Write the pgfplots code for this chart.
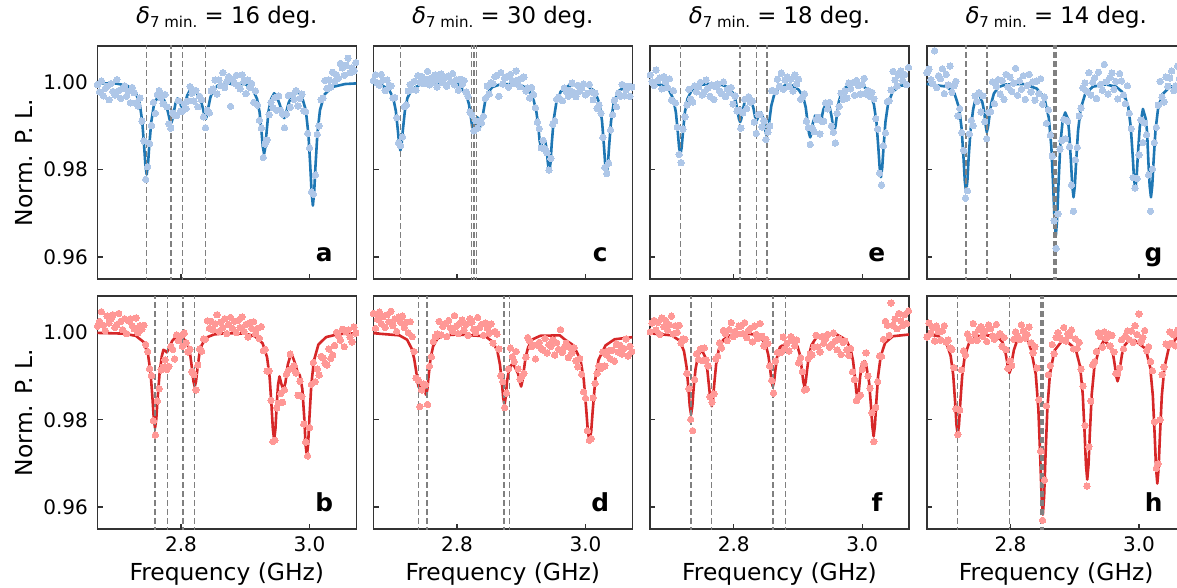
\documentclass[border=0pt]{standalone}
\usepackage{pgfplots}
\pgfplotsset{compat=1.18}
\usepackage{pgfplotstable}
\usepackage{fontspec}
\setmainfont{DejaVu Sans}
\definecolor{lblue}{RGB}{174,199,232}
\definecolor{dblue}{RGB}{31,119,180}
\definecolor{lred}{RGB}{255,152,150}
\definecolor{dred}{RGB}{214,39,40}
\definecolor{vgray}{RGB}{128,128,128}

\pgfplotstableread{
x a b c d e f g h
2.670 0.9995 1.0014 1.0004 1.0043 1.0017 1.0001 1.0022 0.9989
2.673 0.9978 1.0025 1.0017 1.0009 1.0001 1.0021 1.0030 1.0021
2.676 1.0003 1.0047 0.9998 1.0030 0.9993 1.0027 1.0006 0.9998
2.679 0.9969 1.0016 0.9993 1.0046 1.0028 1.0005 0.9997 1.0011
2.682 0.9986 1.0004 1.0018 1.0020 1.0004 1.0023 1.0072 0.9980
2.685 0.9991 1.0037 1.0005 1.0036 1.0010 0.9995 0.9988 1.0014
2.688 0.9960 1.0021 0.9981 1.0011 0.9985 1.0033 1.0015 1.0002
2.691 0.9997 1.0031 1.0005 1.0040 1.0013 1.0013 1.0008 0.9982
2.694 0.9979 1.0040 0.9989 1.0024 1.0001 1.0027 1.0031 1.0003
2.697 0.9971 1.0011 0.9992 1.0048 0.9988 1.0005 0.9974 1.0015
2.700 1.0006 1.0017 0.9964 1.0015 1.0008 1.0017 1.0018 0.9978
2.703 0.9981 1.0043 0.9965 1.0030 0.9959 1.0037 0.9994 0.9982
2.706 0.9963 1.0025 0.9919 1.0002 0.9981 0.9996 1.0037 0.9964
2.709 0.9986 1.0006 0.9862 1.0035 0.9953 1.0015 0.9977 0.9961
2.712 0.9992 1.0031 0.9855 1.0023 0.9897 1.0000 0.9992 0.9919
2.715 0.9968 0.9997 0.9875 1.0037 0.9835 1.0016 1.0002 0.9825
2.718 0.9979 1.0026 0.9944 1.0011 0.9816 0.9975 0.9923 0.9766
2.721 0.9953 1.0031 0.9948 1.0023 0.9893 0.9985 0.9940 0.9822
2.724 0.9988 1.0015 0.9980 0.9999 0.9921 0.9984 0.9885 0.9914
2.727 0.9976 1.0008 0.9995 1.0024 0.9948 0.9906 0.9844 0.9958
2.730 0.9953 1.0033 0.9983 0.9990 0.9984 0.9871 0.9735 0.9948
2.733 0.9946 0.9999 1.0002 0.9956 0.9962 0.9801 0.9752 0.9996
2.736 0.9964 1.0015 0.9982 0.9895 0.9955 0.9775 0.9882 0.9985
2.739 0.9911 1.0007 1.0015 0.9891 0.9992 0.9892 0.9913 0.9981
2.742 0.9866 1.0016 1.0000 0.9830 0.9978 0.9951 0.9901 1.0020
2.745 0.9778 0.9972 1.0013 0.9868 0.9990 0.9938 0.9969 0.9996
2.748 0.9807 0.9956 0.9997 0.9882 1.0000 0.9962 0.9956 0.9981
2.751 0.9860 0.9917 1.0007 0.9880 0.9971 0.9935 0.9976 1.0006
2.754 0.9901 0.9901 1.0025 0.9835 0.9978 0.9964 0.9932 1.0013
2.757 0.9954 0.9798 0.9994 0.9922 1.0005 0.9937 0.9969 0.9991
2.760 0.9929 0.9765 1.0010 0.9944 0.9987 0.9923 0.9910 1.0003
2.763 0.9972 0.9843 1.0001 0.9979 0.9968 0.9852 0.9871 0.9979
2.766 0.9981 0.9871 1.0017 0.9989 0.9994 0.9840 0.9931 1.0017
2.769 0.9964 0.9914 0.9989 0.9996 0.9961 0.9859 0.9933 1.0008
2.772 0.9951 0.9920 1.0006 1.0025 0.9990 0.9939 1.0001 0.9992
2.775 0.9972 0.9937 1.0019 0.9994 0.9996 0.9945 0.9951 0.9984
2.778 0.9944 0.9915 0.9999 1.0013 0.9980 0.9976 0.9991 1.0018
2.781 0.9905 0.9922 1.0011 1.0019 0.9974 0.9964 1.0006 0.9993
2.784 0.9895 0.9968 0.9991 0.9990 1.0001 1.0004 0.9973 0.9997
2.787 0.9930 0.9961 1.0014 1.0027 0.9967 0.9997 1.0004 0.9968
2.790 0.9924 0.9939 1.0002 1.0010 0.9984 0.9981 0.9961 0.9988
2.793 0.9924 0.9994 1.0020 1.0002 0.9977 1.0006 1.0018 0.9960
2.796 0.9958 0.9981 0.9994 1.0038 0.9988 1.0022 0.9989 0.9917
2.799 0.9934 0.9992 1.0006 1.0014 0.9950 0.9990 1.0012 0.9934
2.802 0.9934 0.9968 0.9982 0.9997 0.9969 1.0002 0.9979 0.9924
2.805 0.9951 0.9998 1.0007 1.0021 0.9934 0.9996 0.9998 0.9984
2.808 0.9940 0.9976 0.9995 1.0028 0.9936 1.0014 1.0032 1.0001
2.811 0.9957 0.9955 1.0004 1.0005 0.9895 1.0014 0.9970 0.9991
2.814 0.9990 0.9961 0.9978 1.0018 0.9930 0.9997 1.0003 0.9983
2.817 0.9975 0.9910 0.9968 0.9993 0.9961 1.0022 0.9984 1.0017
2.820 0.9957 0.9903 0.9932 1.0031 0.9940 0.9988 1.0015 1.0003
2.823 0.9981 0.9868 0.9925 1.0023 0.9967 1.0004 0.9961 0.9987
2.826 0.9944 0.9925 0.9889 1.0007 0.9954 1.0009 0.9993 0.9995
2.829 0.9968 0.9962 0.9912 0.9999 0.9957 0.9978 1.0018 1.0012
2.832 0.9960 0.9957 0.9895 1.0034 0.9909 1.0014 0.9978 0.9976
2.835 0.9921 0.9985 0.9912 1.0011 0.9883 0.9995 1.0001 0.9953
2.838 0.9896 0.9984 0.9907 1.0018 0.9926 0.9986 0.9959 0.9967
2.841 0.9936 1.0026 0.9922 0.9993 0.9926 1.0020 1.0003 0.9918
2.844 0.9930 1.0009 0.9963 1.0021 0.9898 0.9991 0.9974 0.9846
2.847 0.9980 1.0025 0.9991 1.0010 0.9912 0.9969 1.0008 0.9728
2.850 0.9985 1.0005 0.9973 0.9998 0.9869 0.9984 0.9950 0.9570
2.853 1.0005 1.0019 0.9999 1.0019 0.9886 0.9974 0.9966 0.9662
2.856 0.9973 1.0040 0.9997 0.9975 0.9900 0.9923 0.9906 0.9832
2.859 1.0005 1.0002 1.0013 1.0002 0.9981 0.9890 0.9937 0.9903
2.862 0.9992 1.0023 1.0016 0.9996 0.9980 0.9861 0.9879 0.9924
2.865 1.0022 1.0011 0.9968 0.9962 0.9978 0.9934 0.9831 0.9972
2.868 0.9988 1.0031 1.0022 0.9901 1.0007 0.9954 0.9683 0.9951
2.871 1.0001 0.9997 0.9996 0.9887 0.9991 0.9953 0.9620 0.9988
2.874 1.0013 1.0018 1.0009 0.9828 1.0021 0.9954 0.9699 0.9999
2.877 0.9945 1.0034 1.0013 0.9861 0.9984 0.9989 0.9847 0.9987
2.880 1.0007 1.0009 0.9989 0.9916 1.0005 0.9963 0.9867 0.9983
2.883 0.9998 1.0025 1.0018 0.9964 1.0012 0.9975 0.9915 1.0011
2.886 1.0016 0.9999 1.0004 0.9944 0.9990 0.9957 0.9871 0.9980
2.889 0.9991 1.0027 0.9997 0.9933 1.0007 0.9990 0.9911 0.9997
2.892 0.9985 1.0011 1.0026 0.9956 0.9980 0.9982 0.9853 0.9992
2.895 1.0017 1.0035 1.0005 0.9916 1.0017 0.9969 0.9765 1.0005
2.898 1.0002 1.0002 0.9990 0.9893 0.9996 0.9982 0.9705 0.9962
2.901 0.9974 1.0018 1.0009 0.9900 1.0007 0.9930 0.9823 0.9985
2.904 1.0005 0.9989 1.0012 0.9906 0.9961 0.9942 0.9851 0.9963
2.907 0.9988 1.0022 0.9980 0.9943 0.9967 0.9910 0.9923 0.9977
2.910 0.9997 1.0009 0.9987 0.9988 0.9974 0.9868 0.9941 0.9916
2.913 0.9954 1.0024 0.9964 0.9980 0.9911 0.9870 0.9987 0.9877
2.916 0.9980 0.9997 0.9988 0.9967 0.9896 0.9940 0.9998 0.9787
2.919 0.9948 1.0009 0.9972 0.9970 0.9858 0.9950 0.9979 0.9648
2.922 0.9913 0.9986 0.9942 0.9939 0.9896 0.9948 1.0022 0.9738
2.925 0.9895 1.0013 0.9909 0.9971 0.9887 0.9966 0.9971 0.9843
2.928 0.9828 0.9958 0.9894 0.9977 0.9915 0.9993 1.0000 0.9925
2.931 0.9859 0.9961 0.9850 0.9963 0.9920 0.9966 1.0010 0.9933
2.934 0.9868 0.9911 0.9867 0.9959 0.9882 0.9955 0.9963 0.9956
2.937 0.9926 0.9912 0.9848 0.9986 0.9911 0.9990 1.0023 0.9999
2.940 0.9954 0.9844 0.9839 0.9953 0.9911 0.9975 0.9995 0.9990
2.943 0.9942 0.9750 0.9799 0.9972 0.9953 0.9986 0.9982 0.9966
2.946 0.9965 0.9753 0.9826 0.9968 0.9939 0.9995 1.0041 1.0001
2.949 0.9936 0.9827 0.9904 0.9983 0.9954 0.9966 1.0001 0.9986
2.952 0.9969 0.9838 0.9911 0.9948 0.9900 0.9972 0.9973 0.9996
2.955 0.9936 0.9860 0.9961 0.9976 0.9886 0.9998 1.0011 0.9969
2.958 0.9927 0.9840 0.9966 0.9961 0.9861 0.9980 1.0021 0.9993
2.961 0.9896 0.9868 0.9961 1.0006 0.9929 0.9960 0.9984 0.9955
2.964 0.9927 0.9904 0.9958 0.9954 0.9945 0.9985 1.0002 0.9906
2.967 0.9970 0.9913 0.9987 0.9966 0.9975 0.9949 0.9962 0.9906
2.970 0.9943 0.9950 0.9979 0.9975 0.9961 0.9977 1.0020 0.9919
2.973 0.9971 0.9917 0.9968 0.9942 0.9980 0.9980 1.0003 0.9983
2.976 0.9961 0.9924 0.9981 0.9965 0.9964 0.9960 0.9971 0.9962
2.979 0.9981 0.9907 0.9998 0.9953 0.9998 0.9947 0.9951 0.9991
2.982 0.9946 0.9856 0.9976 0.9965 0.9985 0.9963 0.9992 1.0003
2.985 0.9963 0.9888 0.9967 0.9935 0.9999 0.9910 0.9929 0.9983
2.988 0.9973 0.9853 0.9993 0.9921 0.9970 0.9892 0.9894 1.0003
2.991 0.9935 0.9790 0.9980 0.9940 1.0004 0.9844 0.9782 0.9977
2.994 0.9933 0.9749 0.9987 0.9904 0.9992 0.9852 0.9758 1.0015
2.997 0.9883 0.9717 0.9996 0.9864 0.9973 0.9856 0.9780 0.9995
3.000 0.9850 0.9782 0.9971 0.9849 0.9995 0.9915 0.9834 1.0042
3.003 0.9749 0.9881 0.9975 0.9775 1.0009 0.9928 0.9914 0.9978
3.006 0.9744 0.9931 0.9995 0.9753 0.9973 0.9953 0.9862 0.9988
3.009 0.9788 0.9887 0.9978 0.9757 0.9981 0.9900 0.9907 1.0004
3.012 0.9881 0.9916 0.9960 0.9850 0.9968 0.9872 0.9880 0.9958
3.015 0.9900 0.9902 0.9975 0.9883 0.9977 0.9816 0.9788 0.9967
3.018 0.9960 0.9945 0.9940 0.9906 0.9962 0.9750 0.9705 0.9933
3.021 0.9964 0.9942 0.9948 0.9923 0.9917 0.9828 0.9802 0.9912
3.024 1.0004 0.9929 0.9929 0.9917 0.9893 0.9887 0.9862 0.9795
3.027 0.9986 0.9925 0.9874 0.9955 0.9792 0.9946 0.9897 0.9689
3.030 1.0005 0.9962 0.9805 0.9923 0.9765 0.9945 0.9948 0.9699
3.033 0.9989 0.9940 0.9791 0.9948 0.9855 0.9984 1.0002 0.9800
3.036 1.0023 0.9948 0.9815 0.9958 0.9884 1.0025 0.9966 0.9903
3.039 1.0002 0.9970 0.9891 0.9939 0.9956 1.0016 0.9955 0.9921
3.042 1.0017 1.0000 0.9926 0.9959 0.9958 0.9993 1.0012 0.9973
3.045 1.0009 0.9992 0.9959 0.9934 0.9982 1.0067 0.9991 0.9970
3.048 1.0043 0.9982 0.9944 0.9973 1.0025 1.0016 1.0010 1.0001
3.051 1.0033 1.0007 0.9975 0.9955 1.0005 1.0030 1.0026 0.9975
3.054 1.0016 0.9967 0.9968 0.9970 0.9991 1.0008 0.9981 0.9994
3.057 1.0039 1.0001 0.9995 0.9950 1.0017 1.0043 0.9992 0.9969
3.060 1.0055 1.0005 0.9969 0.9963 1.0026 1.0026 1.0037 1.0005
3.063 1.0022 0.9989 0.9982 0.9985 1.0004 1.0015 1.0009 0.9995
3.066 1.0033 0.9978 0.9991 0.9946 1.0018 1.0040 0.9978 1.0012
3.069 1.0026 1.0012 0.9968 0.9968 0.9995 1.0020 1.0021 0.9989
3.072 1.0045 0.9998 0.9989 0.9956 1.0034 1.0049 0.9967 1.0004
}\scatterdata

\newcommand{\vln}[1]{\addplot[vl] coordinates {(#1,0.95) (#1,1.01)};}
\newcommand{\ttl}[1]{{\itshape δ}\raisebox{-0.3ex}{\fontsize{7.5}{9}\selectfont 7 min.} = #1 deg.}

\pgfplotsset{
  panel/.style={
    scale only axis, width=129.5pt, height=116.5pt,
    xmin=2.6696, xmax=3.0728, ymin=0.955, ymax=1.0083,
    xtick={2.8,3.0}, ytick={0.96,0.98,1.00},
    xtick pos=left, ytick pos=left,
    tick align=inside, major tick length=2.6pt,
    tick style={black!80, line width=0.7pt},
    axis line style={black!80, line width=0.8pt},
    tick label style={font=\fontsize{10}{12}\selectfont},
    /pgf/number format/assume math mode=true,
    scaled ticks=false,
    xticklabel style={anchor=base, yshift=-11.2pt, inner sep=0pt,
      /pgf/number format/fixed, /pgf/number format/fixed zerofill, /pgf/number format/precision=1},
    yticklabel style={anchor=east, xshift=-4.5pt, inner sep=0pt,
      /pgf/number format/fixed, /pgf/number format/fixed zerofill, /pgf/number format/precision=2},
    clip=true,
    title style={at={(axis description cs:0.5,1.046)}, anchor=base, inner sep=0pt, font=\fontsize{11.4}{13}\selectfont},
    xlabel style={at={(axis description cs:0.5,-0.219)}, anchor=base, inner sep=0pt, font=\fontsize{11.7}{14}\selectfont},
    ylabel style={at={(axis description cs:-0.25,0.5)}, anchor=base, inner sep=0pt, font=\fontsize{11.7}{14}\selectfont},
  },
  notx/.style={xticklabels={}},
  noty/.style={yticklabels={}},
  scat/.style={only marks, color=#1, mark=*, mark size=1.6pt, mark options={solid, draw=#1, fill=#1, line width=0pt}},
  fitl/.style={no marks, line width=1.3pt, color=#1, line join=round},
  vl/.style={vgray, dash pattern=on 3pt off 1.5pt, line width=0.75pt, forget plot},
}
\newcommand{\plab}[1]{\node[anchor=base, inner sep=0pt, font=\bfseries\fontsize{12.4}{14}\selectfont] at (rel axis cs:0.876,0.074) {#1};}

\begin{document}
\begin{tikzpicture}
% ---------------- a
\begin{axis}[panel, notx, at={(48.65pt,-23pt)}, anchor=north west, title={\ttl{16}}, ylabel={Norm. P. L.}]
\addplot[scat=lblue] table[x=x, y=a] {\scatterdata};
\addplot[fitl=dblue] coordinates {(2.660,0.9998) (2.700,0.9997) (2.7165,0.9992) (2.7285,0.9979) (2.7355,0.9952) (2.7395,0.9911) (2.7425,0.9854) (2.7445,0.9810) (2.7465,0.9789) (2.7485,0.9811) (2.7505,0.9855) (2.7535,0.9908) (2.7575,0.9946) (2.7662,0.9977) (2.7734,0.9960) (2.7774,0.9945) (2.7804,0.9927) (2.7824,0.9913) (2.7844,0.9906) (2.7864,0.9914) (2.7884,0.9930) (2.7914,0.9952) (2.7943,0.9963) (2.7983,0.9955) (2.8006,0.9943) (2.8026,0.9939) (2.8046,0.9943) (2.8066,0.9955) (2.8096,0.9970) (2.8136,0.9981) (2.8192,0.9986) (2.8274,0.9968) (2.8314,0.9955) (2.8344,0.9938) (2.8364,0.9922) (2.8384,0.9916) (2.8404,0.9924) (2.8424,0.9942) (2.8454,0.9964) (2.8494,0.9981) (2.8564,0.9992) (2.8684,0.9997) (2.900,0.9996) (2.9113,0.9984) (2.9183,0.9962) (2.9223,0.9931) (2.9253,0.9886) (2.9273,0.9852) (2.9293,0.9836) (2.9313,0.9853) (2.9333,0.9889) (2.9363,0.9935) (2.9403,0.9962) (2.9449,0.9975) (2.9490,0.9967) (2.9535,0.9950) (2.9565,0.9935) (2.9585,0.9923) (2.9605,0.9918) (2.9625,0.9923) (2.9645,0.9936) (2.9675,0.9953) (2.9715,0.9966) (2.9785,0.9975) (2.9844,0.9977) (2.9872,0.9972) (2.9942,0.9936) (2.9982,0.9882) (3.0012,0.9807) (3.0032,0.9748) (3.0052,0.9718) (3.0072,0.9748) (3.0092,0.9807) (3.0122,0.9882) (3.0162,0.9936) (3.0232,0.9972) (3.0352,0.9989) (3.0552,0.9996) (3.080,0.9998)};
\vln{2.7465}\vln{2.7844}\vln{2.8026}\vln{2.8384}
\plab{a}
\end{axis}
% ---------------- b
\begin{axis}[panel, at={(48.65pt,-148pt)}, anchor=north west, xlabel={Frequency (GHz)}, ylabel={Norm. P. L.}]
\addplot[scat=lred] table[x=x, y=b] {\scatterdata};
\addplot[fitl=dred] coordinates {(2.660,0.9999) (2.7095,0.9997) (2.7295,0.9992) (2.7415,0.9978) (2.7485,0.9950) (2.7525,0.9908) (2.7555,0.9849) (2.7575,0.9803) (2.7595,0.9781) (2.7615,0.9803) (2.7635,0.9849) (2.7665,0.9905) (2.7700,0.9945) (2.7725,0.9960) (2.7750,0.9958) (2.7777,0.9954) (2.7810,0.9962) (2.7860,0.9980) (2.7932,0.9991) (2.8033,0.9987) (2.8103,0.9971) (2.8143,0.9948) (2.8173,0.9914) (2.8193,0.9888) (2.8213,0.9876) (2.8233,0.9888) (2.8253,0.9914) (2.8283,0.9948) (2.8323,0.9971) (2.8393,0.9988) (2.8513,0.9995) (2.8713,0.9998) (2.900,0.9997) (2.9149,0.9991) (2.9269,0.9975) (2.9339,0.9943) (2.9379,0.9897) (2.9409,0.9830) (2.9429,0.9779) (2.9449,0.9754) (2.9469,0.9779) (2.9489,0.9835) (2.9510,0.9880) (2.9532,0.9899) (2.9565,0.9880) (2.9595,0.9869) (2.9625,0.9885) (2.9660,0.9925) (2.9714,0.9953) (2.9760,0.9935) (2.9818,0.9907) (2.9848,0.9902) (2.9888,0.9870) (2.9918,0.9804) (2.9938,0.9744) (2.9958,0.9716) (2.9978,0.9744) (2.9998,0.9804) (3.0028,0.9881) (3.0068,0.9935) (3.0138,0.9972) (3.0258,0.9989) (3.0458,0.9996) (3.080,0.9998)};
\vln{2.7595}\vln{2.7787}\vln{2.8031}\vln{2.8213}
\plab{b}
\end{axis}
% ---------------- c
\begin{axis}[panel, notx, noty, at={(186.65pt,-23pt)}, anchor=north west, title={\ttl{30}}]
\addplot[scat=lblue] table[x=x, y=c] {\scatterdata};
\addplot[fitl=dblue] coordinates {(2.660,0.9997) (2.6817,0.9994) (2.6937,0.9984) (2.7007,0.9964) (2.7047,0.9934) (2.7077,0.9892) (2.7097,0.9860) (2.7117,0.9844) (2.7137,0.9860) (2.7157,0.9892) (2.7187,0.9934) (2.7227,0.9964) (2.7297,0.9984) (2.7417,0.9994) (2.7617,0.9997) (2.800,0.9997) (2.8075,0.9985) (2.8145,0.9970) (2.8185,0.9950) (2.8215,0.9920) (2.8235,0.9898) (2.8255,0.9886) (2.8275,0.9893) (2.8295,0.9912) (2.8315,0.9920) (2.8335,0.9915) (2.8350,0.9905) (2.8369,0.9899) (2.8389,0.9910) (2.8409,0.9932) (2.8439,0.9958) (2.8479,0.9976) (2.8549,0.9989) (2.8669,0.9995) (2.8900,0.9996) (2.9004,0.9993) (2.9124,0.9982) (2.9194,0.9958) (2.9234,0.9933) (2.9264,0.9900) (2.9284,0.9868) (2.9304,0.9851) (2.9324,0.9862) (2.9345,0.9870) (2.9370,0.9866) (2.9394,0.9848) (2.9414,0.9815) (2.9434,0.9794) (2.9454,0.9815) (2.9474,0.9860) (2.9504,0.9914) (2.9544,0.9952) (2.9614,0.9979) (2.9734,0.9992) (2.9900,0.9996) (3.0027,0.9992) (3.0147,0.9979) (3.0217,0.9951) (3.0257,0.9911) (3.0287,0.9854) (3.0307,0.9810) (3.0327,0.9789) (3.0347,0.9810) (3.0367,0.9854) (3.0397,0.9911) (3.0437,0.9951) (3.0507,0.9979) (3.0627,0.9992) (3.080,0.9995)};
\vln{2.7117}\vln{2.8227}\vln{2.8266}\vln{2.8305}
\plab{c}
\end{axis}
% ---------------- d
\begin{axis}[panel, noty, at={(186.65pt,-148pt)}, anchor=north west, xlabel={Frequency (GHz)}]
\addplot[scat=lred] table[x=x, y=d] {\scatterdata};
\addplot[fitl=dred] coordinates {(2.660,0.9999) (2.7102,0.9993) (2.7222,0.9983) (2.7292,0.9963) (2.7332,0.9940) (2.7362,0.9912) (2.7382,0.9888) (2.7402,0.9875) (2.7425,0.9878) (2.7450,0.9883) (2.7475,0.9880) (2.7497,0.9866) (2.7517,0.9857) (2.7537,0.9869) (2.7557,0.9900) (2.7587,0.9940) (2.7627,0.9968) (2.7697,0.9986) (2.7817,0.9993) (2.800,0.9995) (2.8438,0.9991) (2.8558,0.9978) (2.8628,0.9957) (2.8668,0.9926) (2.8698,0.9885) (2.8718,0.9850) (2.8738,0.9834) (2.8758,0.9852) (2.8778,0.9888) (2.8808,0.9915) (2.8848,0.9926) (2.8878,0.9926) (2.8920,0.9915) (2.8950,0.9905) (2.8967,0.9894) (2.8977,0.9886) (2.8997,0.9876) (2.9017,0.9888) (2.9037,0.9910) (2.9067,0.9943) (2.9107,0.9966) (2.9177,0.9984) (2.9297,0.9992) (2.9600,0.9993) (2.9672,0.9984) (2.9812,0.9970) (2.9922,0.9937) (2.9972,0.9892) (3.0010,0.9825) (3.0036,0.9774) (3.0062,0.9750) (3.0088,0.9774) (3.0114,0.9825) (3.0152,0.9892) (3.0202,0.9937) (3.0312,0.9970) (3.0452,0.9984) (3.080,0.9990)};
\vln{2.7397}\vln{2.7532}\vln{2.8733}\vln{2.8815}
\plab{d}
\end{axis}
% ---------------- e
\begin{axis}[panel, notx, noty, at={(325pt,-23pt)}, anchor=north west, title={\ttl{18}}]
\addplot[scat=lblue] table[x=x, y=e] {\scatterdata};
\addplot[fitl=dblue] coordinates {(2.660,0.9999) (2.6869,0.9994) (2.6989,0.9983) (2.7059,0.9962) (2.7099,0.9931) (2.7129,0.9886) (2.7149,0.9851) (2.7169,0.9835) (2.7189,0.9851) (2.7209,0.9886) (2.7239,0.9931) (2.7279,0.9962) (2.7349,0.9983) (2.7469,0.9994) (2.7700,0.9997) (2.7799,0.9995) (2.7919,0.9988) (2.7989,0.9975) (2.8029,0.9958) (2.8059,0.9935) (2.8079,0.9917) (2.8099,0.9909) (2.8119,0.9917) (2.8139,0.9935) (2.8169,0.9955) (2.8213,0.9966) (2.8263,0.9957) (2.8303,0.9943) (2.8333,0.9920) (2.8353,0.9912) (2.8373,0.9918) (2.8395,0.9928) (2.8421,0.9931) (2.8450,0.9922) (2.8474,0.9904) (2.8494,0.9886) (2.8514,0.9878) (2.8534,0.9888) (2.8554,0.9912) (2.8584,0.9946) (2.8624,0.9969) (2.8694,0.9986) (2.8814,0.9994) (2.8890,0.9994) (2.9010,0.9983) (2.9080,0.9967) (2.9120,0.9943) (2.9150,0.9908) (2.9170,0.9884) (2.9190,0.9874) (2.9210,0.9884) (2.9230,0.9906) (2.9267,0.9924) (2.9305,0.9917) (2.9325,0.9911) (2.9345,0.9909) (2.9365,0.9916) (2.9395,0.9938) (2.9449,0.9954) (2.9494,0.9942) (2.9524,0.9921) (2.9544,0.9899) (2.9564,0.9888) (2.9584,0.9900) (2.9604,0.9924) (2.9634,0.9955) (2.9674,0.9975) (2.9744,0.9989) (2.9864,0.9995) (2.9991,0.9995) (3.0111,0.9978) (3.0181,0.9950) (3.0221,0.9909) (3.0251,0.9850) (3.0271,0.9805) (3.0291,0.9783) (3.0311,0.9805) (3.0331,0.9850) (3.0361,0.9909) (3.0401,0.9950) (3.0471,0.9978) (3.0591,0.9992) (3.080,0.9996)};
\vln{2.7169}\vln{2.8099}\vln{2.8353}\vln{2.8514}
\plab{e}
\end{axis}
% ---------------- f
\begin{axis}[panel, noty, at={(325pt,-148pt)}, anchor=north west, xlabel={Frequency (GHz)}]
\addplot[scat=lred] table[x=x, y=f] {\scatterdata};
\addplot[fitl=dred] coordinates {(2.660,0.9999) (2.7035,0.9993) (2.7155,0.9981) (2.7225,0.9957) (2.7265,0.9921) (2.7295,0.9870) (2.7315,0.9831) (2.7335,0.9812) (2.7355,0.9831) (2.7375,0.9872) (2.7405,0.9916) (2.7445,0.9947) (2.7501,0.9960) (2.7547,0.9946) (2.7587,0.9916) (2.7617,0.9873) (2.7637,0.9845) (2.7657,0.9831) (2.7677,0.9848) (2.7697,0.9883) (2.7727,0.9929) (2.7767,0.9961) (2.7837,0.9983) (2.7957,0.9994) (2.8200,0.9997) (2.8308,0.9995) (2.8428,0.9987) (2.8498,0.9971) (2.8538,0.9948) (2.8568,0.9914) (2.8588,0.9888) (2.8608,0.9876) (2.8628,0.9888) (2.8648,0.9914) (2.8678,0.9947) (2.8718,0.9966) (2.8760,0.9970) (2.8805,0.9964) (2.8850,0.9976) (2.8904,0.9978) (2.8991,0.9968) (2.9031,0.9948) (2.9061,0.9914) (2.9081,0.9888) (2.9101,0.9876) (2.9121,0.9888) (2.9141,0.9914) (2.9171,0.9948) (2.9211,0.9971) (2.9281,0.9987) (2.9401,0.9994) (2.9600,0.9995) (2.9627,0.9993) (2.9747,0.9983) (2.9817,0.9962) (2.9857,0.9935) (2.9887,0.9896) (2.9907,0.9865) (2.9927,0.9850) (2.9947,0.9866) (2.9967,0.9898) (2.9997,0.9928) (3.0036,0.9934) (3.0067,0.9920) (3.0107,0.9885) (3.0137,0.9830) (3.0157,0.9785) (3.0177,0.9762) (3.0197,0.9786) (3.0217,0.9836) (3.0247,0.9900) (3.0287,0.9945) (3.0357,0.9976) (3.0477,0.9991) (3.080,0.9996)};
\vln{2.7335}\vln{2.7657}\vln{2.8608}\vln{2.8805}
\plab{f}
\end{axis}
% ---------------- g
\begin{axis}[panel, notx, noty, at={(463.35pt,-23pt)}, anchor=north west, title={\ttl{14}}]
\addplot[scat=lblue] table[x=x, y=g] {\scatterdata};
\addplot[fitl=dblue] coordinates {(2.660,0.9998) (2.7009,0.9990) (2.7129,0.9974) (2.7199,0.9942) (2.7239,0.9895) (2.7269,0.9827) (2.7289,0.9774) (2.7309,0.9749) (2.7329,0.9774) (2.7349,0.9828) (2.7379,0.9892) (2.7419,0.9938) (2.7460,0.9965) (2.7501,0.9975) (2.7561,0.9955) (2.7591,0.9933) (2.7611,0.9904) (2.7631,0.9886) (2.7651,0.9898) (2.7671,0.9921) (2.7701,0.9952) (2.7741,0.9974) (2.7811,0.9989) (2.7931,0.9995) (2.8200,0.9996) (2.8406,0.9986) (2.8526,0.9965) (2.8596,0.9919) (2.8636,0.9853) (2.8666,0.9758) (2.8686,0.9684) (2.8706,0.9649) (2.8726,0.9686) (2.8746,0.9762) (2.8776,0.9858) (2.8812,0.9912) (2.8852,0.9931) (2.8892,0.9917) (2.8912,0.9888) (2.8942,0.9818) (2.8962,0.9763) (2.8982,0.9737) (2.9002,0.9763) (2.9022,0.9818) (2.9052,0.9889) (2.9092,0.9939) (2.9162,0.9973) (2.9282,0.9990) (2.9482,0.9995) (2.9643,0.9990) (2.9763,0.9975) (2.9833,0.9944) (2.9873,0.9897) (2.9903,0.9831) (2.9923,0.9780) (2.9943,0.9756) (2.9963,0.9781) (2.9983,0.9834) (3.0013,0.9898) (3.0062,0.9939) (3.0107,0.9916) (3.0127,0.9885) (3.0147,0.9818) (3.0167,0.9763) (3.0187,0.9737) (3.0207,0.9763) (3.0227,0.9818) (3.0257,0.9889) (3.0297,0.9939) (3.0367,0.9973) (3.0487,0.9990) (3.080,0.9996)};
\vln{2.7309}\vln{2.7631}\vln{2.8680}\vln{2.8712}
\plab{g}
\end{axis}
% ---------------- h
\begin{axis}[panel, noty, at={(463.35pt,-148pt)}, anchor=north west, xlabel={Frequency (GHz)}]
\addplot[scat=lred] table[x=x, y=h] {\scatterdata};
\addplot[fitl=dred] coordinates {(2.660,0.9999) (2.6879,0.9991) (2.6999,0.9977) (2.7069,0.9946) (2.7109,0.9902) (2.7139,0.9839) (2.7159,0.9789) (2.7179,0.9766) (2.7199,0.9789) (2.7219,0.9839) (2.7249,0.9902) (2.7289,0.9946) (2.7359,0.9977) (2.7479,0.9991) (2.7700,0.9993) (2.7804,0.9989) (2.7874,0.9978) (2.7914,0.9960) (2.7944,0.9936) (2.7964,0.9916) (2.7984,0.9907) (2.8004,0.9916) (2.8024,0.9936) (2.8054,0.9960) (2.8094,0.9977) (2.8160,0.9987) (2.8260,0.9985) (2.8324,0.9958) (2.8394,0.9904) (2.8434,0.9825) (2.8464,0.9712) (2.8484,0.9625) (2.8504,0.9583) (2.8524,0.9625) (2.8544,0.9712) (2.8574,0.9825) (2.8614,0.9904) (2.8684,0.9958) (2.8826,0.9985) (2.9015,0.9962) (2.9085,0.9921) (2.9125,0.9858) (2.9155,0.9767) (2.9175,0.9697) (2.9195,0.9663) (2.9215,0.9697) (2.9235,0.9767) (2.9265,0.9858) (2.9305,0.9919) (2.9375,0.9960) (2.9449,0.9980) (2.9557,0.9970) (2.9597,0.9950) (2.9627,0.9922) (2.9647,0.9899) (2.9667,0.9888) (2.9687,0.9899) (2.9707,0.9922) (2.9737,0.9950) (2.9777,0.9970) (2.9847,0.9982) (2.9930,0.9982) (3.0106,0.9962) (3.0176,0.9919) (3.0216,0.9855) (3.0246,0.9761) (3.0266,0.9689) (3.0286,0.9654) (3.0306,0.9689) (3.0326,0.9761) (3.0356,0.9855) (3.0396,0.9919) (3.0466,0.9965) (3.0586,0.9987) (3.080,0.9995)};
\vln{2.7179}\vln{2.7984}\vln{2.8473}\vln{2.8504}
\plab{h}
\end{axis}
\pgfresetboundingbox
\path[use as bounding box] (0,0) rectangle (588.5pt,-294pt);
\end{tikzpicture}
\end{document}
